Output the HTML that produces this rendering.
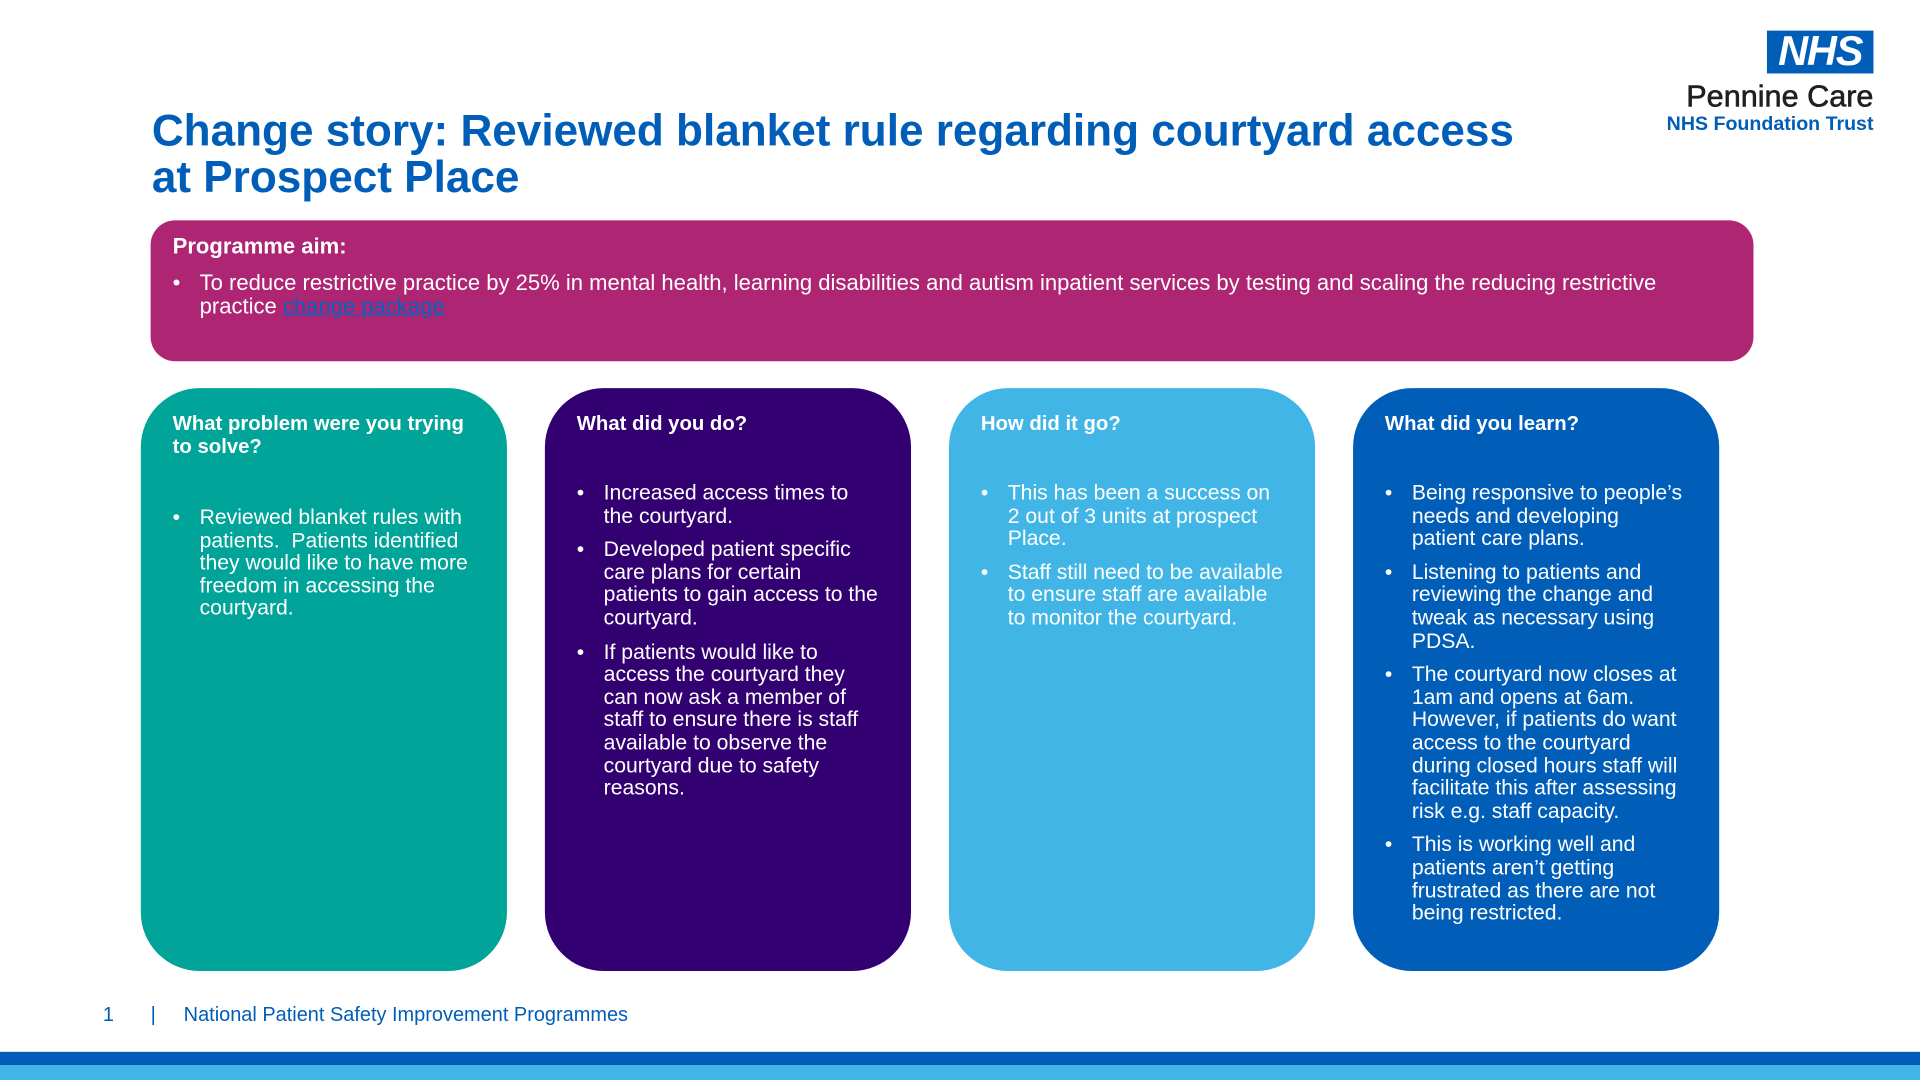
<!DOCTYPE html>
<html><head><meta charset="utf-8"><style>
body{margin:0;width:1920px;height:1080px;overflow:hidden;background:#fff;font-family:"Liberation Sans",Arial,sans-serif}
#s{position:absolute;left:0;top:0;width:1568px;height:882px;transform:scale(1.22449);transform-origin:0 0}
.a{position:absolute}
h1{position:absolute;left:124px;top:88px;margin:0;font-size:36px;line-height:38px;color:#005EB8;font-weight:bold}
.card{position:absolute;top:317px;width:299px;height:476px;border-radius:48px;color:#fff;font-size:17.3px;line-height:18.6px}
.card h3{margin:0;position:absolute;left:26px;top:20px;right:20px;font-size:16.6px;line-height:18.6px}
.card ul{position:absolute;left:26px;width:247px;margin:0;padding:0;list-style:none}
.card li{position:relative;padding-left:22px;margin-bottom:9px}
.card li:before{content:"•";position:absolute;left:0}
</style></head><body><div id="s">
<h1>Change story: Reviewed blanket rule regarding courtyard access<br>at Prospect Place</h1>
<div class="a" style="left:1443px;top:25px;width:87px;height:35px;background:#005EB8;color:#fff;font:italic bold 34px/35px 'Liberation Sans',sans-serif;text-align:center;letter-spacing:-1px">NHS</div>
<div class="a" style="left:1300px;top:65px;width:230px;text-align:right;font-size:25px;line-height:28px;color:#231f20;-webkit-text-stroke:0.5px #231f20">Pennine Care</div>
<div class="a" style="left:1300px;top:93px;width:230px;text-align:right;font-size:16px;line-height:18px;color:#005EB8;font-weight:bold">NHS Foundation Trust</div>
<div class="a" style="left:123px;top:180px;width:1309px;height:115px;background:#AE2573;border-radius:20px;color:#fff;font-size:18px;line-height:19px">
<div class="a" style="left:18px;top:12px;font-weight:bold">Programme aim:</div>
<div class="a" style="left:18px;top:42px">•</div>
<div class="a" style="left:40px;top:42px;width:1240px">To reduce restrictive practice by 25% in mental health, learning disabilities and autism inpatient services by testing and scaling the reducing restrictive practice <span style="color:#0563C1;text-decoration:underline">change package</span></div>
</div>
<div class="card" style="left:115px;background:#00A499"><h3>What problem were you trying to solve?</h3>
<ul style="top:96px"><li>Reviewed blanket rules with patients.&nbsp; Patients identified they would like to have more freedom in accessing the courtyard.</li></ul></div>
<div class="card" style="left:445px;background:#330072"><h3>What did you do?</h3>
<ul style="top:76px"><li>Increased access times to the courtyard.</li><li>Developed patient specific care plans for certain patients to gain access to the courtyard.</li><li>If patients would like to access the courtyard they can now ask a member of staff to ensure there is staff available to observe the courtyard due to safety reasons.</li></ul></div>
<div class="card" style="left:775px;background:#41B6E6"><h3>How did it go?</h3>
<ul style="top:76px"><li>This has been a success on 2 out of 3 units at prospect Place.</li><li>Staff still need to be available to ensure staff are available to monitor the courtyard.</li></ul></div>
<div class="card" style="left:1105px;background:#005EB8"><h3>What did you learn?</h3>
<ul style="top:76px"><li>Being responsive to people’s needs and developing patient care plans.</li><li>Listening to patients and reviewing the change and tweak as necessary using PDSA.</li><li>The courtyard now closes at 1am and opens at 6am. However, if patients do want access to the courtyard during closed hours staff will facilitate this after assessing risk e.g. staff capacity.</li><li>This is working well and patients aren’t getting frustrated as there are not being restricted.</li></ul></div>
<div class="a" style="left:84px;top:820px;font-size:16.3px;color:#005EB8">1</div>
<div class="a" style="left:123px;top:820px;font-size:16.3px;color:#005EB8">|</div>
<div class="a" style="left:150px;top:820px;font-size:16.3px;color:#005EB8">National Patient Safety Improvement Programmes</div>
<div class="a" style="left:0;top:859px;width:1568px;height:11px;background:#005EB8"></div>
<div class="a" style="left:0;top:870px;width:1568px;height:12px;background:#41B6E6"></div>
</div></body></html>
